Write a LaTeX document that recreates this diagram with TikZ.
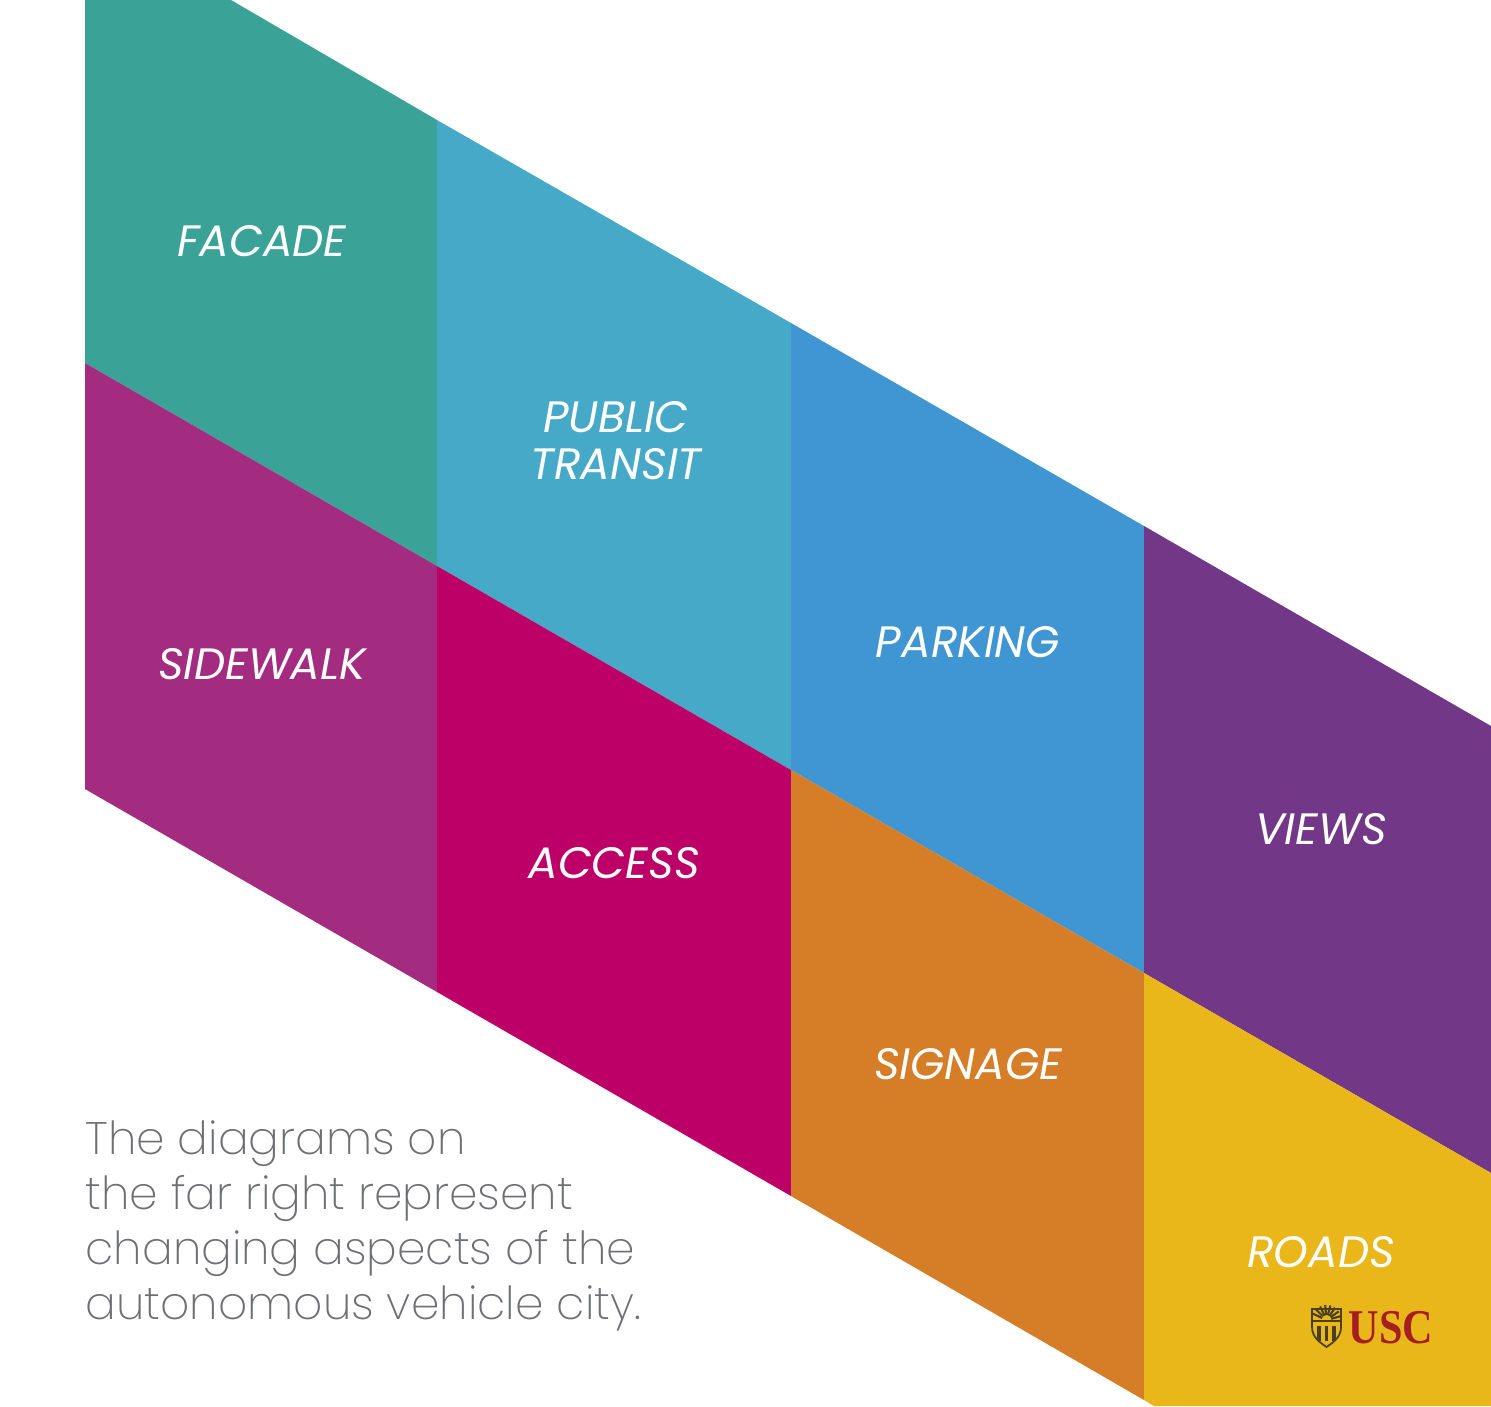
\documentclass[tikz,border=0pt]{standalone}
\usepackage{xcolor}
\usepackage{fontspec}
\setmainfont{Poppins}
\newfontfamily\thinfont[UprightFont=* ExtraLight]{Poppins}
\newfontfamily\logofont{Liberation Serif}
\usetikzlibrary{positioning}
\definecolor{facadecol}{HTML}{3BA297}
\definecolor{transitcol}{HTML}{47A9C8}
\definecolor{parkingcol}{HTML}{3F96D3}
\definecolor{viewscol}{HTML}{733787}
\definecolor{sidewalkcol}{HTML}{A32B80}
\definecolor{accesscol}{HTML}{BD0067}
\definecolor{signagecol}{HTML}{D67D27}
\definecolor{roadscol}{HTML}{E9B719}
\definecolor{captioncol}{HTML}{6E6F72}
\definecolor{logocol}{HTML}{A51E22}
\definecolor{shieldcol}{HTML}{4A3F1C}

\begin{document}
\begin{tikzpicture}[
    x=0.01cm, y=-0.01cm,
    label/.style={text=white, font=\fontsize{12.5}{13.4}\selectfont\itshape, align=center, inner sep=0pt},
    caption/.style={text=captioncol, font=\thinfont\fontsize{12.95}{15.65}\selectfont, align=left, inner sep=0pt}
]
    \useasboundingbox (0,0) rectangle (1491,1406);
    % upper band
    \fill[facadecol] (85,0) -- (231,0) -- (437,120) -- (437,566) -- (85,363) -- cycle;
    \fill[transitcol] (437,120) -- (791,323) -- (791,770) -- (437,566) -- cycle;
    \fill[parkingcol] (791,323) -- (1144,526) -- (1144,973) -- (791,770) -- cycle;
    \fill[viewscol] (1144,526) -- (1491,726) -- (1491,1173) -- (1144,973) -- cycle;
    % lower band
    \fill[sidewalkcol] (85,363) -- (437,566) -- (437,992) -- (85,789) -- cycle;
    \fill[accesscol] (437,566) -- (791,770) -- (791,1196) -- (437,992) -- cycle;
    \fill[signagecol] (791,770) -- (1144,973) -- (1144,1400) -- (791,1196) -- cycle;
    \fill[roadscol] (1144,973) -- (1491,1173) -- (1491,1406) -- (1154,1406) -- (1144,1400) -- cycle;
    % labels
    \node[label] (facade) at (262,241) {FACADE};
    \node[label] (transit) at (616,441) {PUBLIC\\TRANSIT};
    \node[label] (parking) at (968,642) {PARKING};
    \node[label] (views) at (1321,829) {VIEWS};
    \node[label] (sidewalk) at (262,664) {SIDEWALK};
    \node[label] (access) at (614,863) {ACCESS};
    \node[label] (signage) at (968,1064) {SIGNAGE};
    \node[label] (roads) at (1321,1252) {ROADS};
    \node[caption, anchor=west] (note) at (85,1226) {The diagrams on\\the far right represent\\changing aspects of the\\autonomous vehicle city.};
    % logo
    \node[text=logocol, font=\logofont\bfseries\fontsize{13.8}{14}\selectfont, inner sep=0pt, anchor=base west] (usc) at (1348,1343) {\scalebox{.87}[1]{USC}};
    \draw[shieldcol, line width=0.5pt] (1312,1309) -- (1341,1309) -- (1341,1327)
        .. controls (1341,1338) and (1332,1343) .. (1326.5,1347)
        .. controls (1321,1343) and (1312,1338) .. (1312,1327) -- cycle;
    \foreach \a in {15,35,...,165}
        \draw[shieldcol, line width=0.6pt] (1326.5,1320) -- +({-\a}:15);
    \fill[roadscol] (1326.5,1320) circle (5);
    \draw[shieldcol, line width=0.6pt] (1313,1321) -- (1340,1321);
    \foreach \k in {1319,1326.5,1334}
        \draw[shieldcol, line width=1.1pt] (\k,1326) -- (\k,1341);
\end{tikzpicture}
\end{document}
